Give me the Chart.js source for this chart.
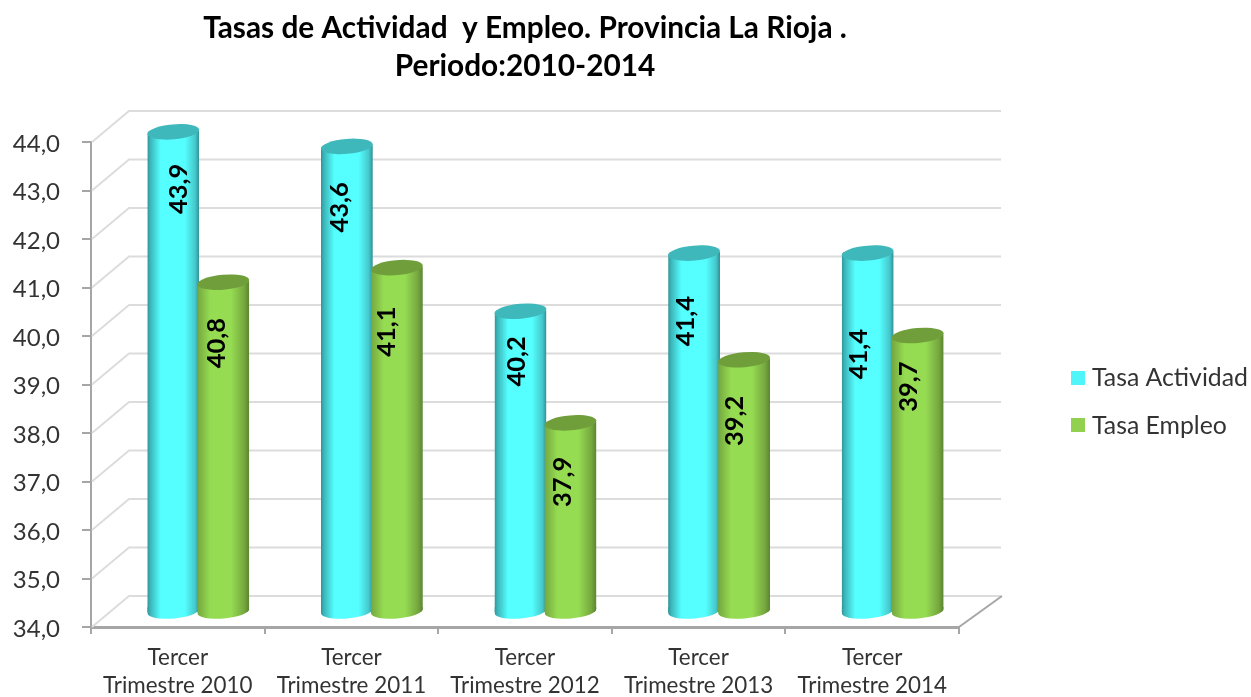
<!DOCTYPE html>
<html><head><meta charset="utf-8">
<style>html,body{margin:0;padding:0;background:#fff}canvas{display:block}</style>
<script src="https://cdn.jsdelivr.net/npm/chart.js@4"></script>
</head><body>
<div style="width:1251px;height:697px"><canvas id="c" width="1251" height="697"></canvas></div>
<script>
const titleLines = ['Tasas de Actividad  y Empleo. Provincia La Rioja .', 'Periodo:2010-2014'];
const categories = [['Tercer','Trimestre 2010'],['Tercer','Trimestre 2011'],['Tercer','Trimestre 2012'],['Tercer','Trimestre 2013'],['Tercer','Trimestre 2014']];
const tasaActividad = [43.9, 43.6, 40.2, 41.4, 41.4];
const tasaEmpleo = [40.8, 41.1, 37.9, 39.2, 39.7];
const yMin = 34, yMax = 44;

// hand-placed data label nudges, as in the source chart (relative to cap centre)
const labelNudgeActividad = [[5,57],[-7,61],[-4,50],[-8,68],[-9,101]];
const labelNudgeEmpleo = [[-7,61],[-10,64],[-8,59],[-9,61],[-9,51]];

const FONT = 'Lato, Carlito, Calibri, sans-serif';
const DEPTH_X = 41, DEPTH_Y = 31;
const MID_X = 20.5, MID_Y = 15;
const SLOT = [-25, 25];
const HALF = 26, CAP_RY = 7.5, TILT = -5 * Math.PI / 180;

const looks = [
  {stops:[[0,'#2f9498'],[0.06,'#3cb6ba'],[0.26,'#55ffff'],[0.72,'#55ffff'],[0.92,'#45c8cc'],[1,'#2f8f93']], cap:'#3fb8bb', swatch:'#4ff5f9'},
  {stops:[[0,'#74a63f'],[0.25,'#96dc52'],[0.65,'#96dc52'],[0.9,'#76a83f'],[1,'#5b8430']], cap:'#6f9e3a', swatch:'#92d14f'}
];

function cylinderGradient(ctx, x, look){
  const g = ctx.createLinearGradient(x-HALF,0,x+HALF,0);
  look.stops.forEach(s=>g.addColorStop(s[0],s[1]));
  return g;
}

const cylinderPlugin = {
  id:'cylinder',
  beforeDatasetsDraw(chart){
    const {ctx, chartArea:a, scales:{y}} = chart;
    ctx.save();
    ctx.lineWidth = 2;
    ctx.strokeStyle = '#dcdcdc';
    ctx.lineJoin = 'round';
    y.ticks.forEach(t=>{
      const py = y.getPixelForValue(t.value);
      ctx.beginPath();
      ctx.moveTo(a.left+1, py);
      ctx.lineTo(a.left+DEPTH_X-3, py-DEPTH_Y);
      ctx.lineTo(a.right+DEPTH_X+1, py-DEPTH_Y);
      ctx.stroke();
    });
    ctx.strokeStyle = '#a6a6a6';
    ctx.beginPath();
    ctx.moveTo(a.right, a.bottom);
    ctx.lineTo(a.right+DEPTH_X+2, a.bottom-DEPTH_Y);
    ctx.stroke();
    ctx.restore();
  },
  beforeDatasetDraw(chart, args){
    const {ctx} = chart, meta = args.meta, look = looks[args.index];
    ctx.save();
    ctx.translate(MID_X + SLOT[args.index], -MID_Y);
    ctx.beginPath();
    meta.data.forEach(el=>{
      el.options = Object.assign({}, el.options, {backgroundColor: cylinderGradient(ctx, el.x, look)});
      // side silhouette: bounded by tilted ellipse arcs at base and top
      ctx.moveTo(el.x-HALF, el.base+2);
      ctx.ellipse(el.x, el.base, HALF, CAP_RY, TILT, Math.PI, 0, true);
      ctx.ellipse(el.x, el.y, HALF, CAP_RY, TILT, 0, Math.PI, true);
      ctx.closePath();
    });
    ctx.clip();
    // lower rounded part below the bar rectangle
    meta.data.forEach(el=>{
      ctx.fillStyle = el.options.backgroundColor;
      ctx.fillRect(el.x-HALF, el.base-4, HALF*2, CAP_RY+10);
    });
  },
  afterDatasetDraw(chart, args){
    const {ctx} = chart, meta = args.meta, look = looks[args.index];
    ctx.restore();
    ctx.save();
    ctx.translate(MID_X + SLOT[args.index], -MID_Y);
    ctx.fillStyle = look.cap;
    meta.data.forEach(el=>{
      ctx.beginPath();
      ctx.ellipse(el.x, el.y, HALF, CAP_RY, TILT, 0, Math.PI*2);
      ctx.fill();
    });
    ctx.restore();
  },
  afterDatasetsDraw(chart){
    const {ctx} = chart;
    // data labels
    const nudges = [labelNudgeActividad, labelNudgeEmpleo];
    chart.data.datasets.forEach((ds,di)=>{
      chart.getDatasetMeta(di).data.forEach((el,i)=>{
        ctx.save();
        ctx.translate(el.x+MID_X+SLOT[di]+nudges[di][i][0], el.y-MID_Y+nudges[di][i][1]);
        ctx.rotate(-Math.PI/2);
        ctx.font = 'bold 25.5px '+FONT;
        ctx.fillStyle = '#000';
        ctx.textAlign = 'center';
        ctx.textBaseline = 'middle';
        ctx.fillText(ds.data[i].toFixed(1).replace('.',','),0,0);
        ctx.restore();
      });
    });
    // legend
    const ly = [377.5,425], lx = 1071;
    chart.data.datasets.forEach((ds,di)=>{
      ctx.save();
      ctx.fillStyle = looks[di].swatch;
      ctx.fillRect(lx, Math.round(ly[di])-7, 14, 14);
      ctx.font = '24.8px '+FONT;
      ctx.fillStyle = '#333';
      ctx.textAlign = 'left';
      ctx.textBaseline = 'middle';
      ctx.fillText(ds.label, lx+21, ly[di]+1);
      ctx.restore();
    });
  }
};

new Chart(document.getElementById('c'),{
  type:'bar',
  data:{labels:categories,datasets:[
    {label:'Tasa Actividad',data:tasaActividad,backgroundColor:looks[0].swatch,order:1,clip:false},
    {label:'Tasa Empleo',data:tasaEmpleo,backgroundColor:looks[1].swatch,order:0,clip:false}
  ]},
  options:{
    responsive:false,animation:false,
    layout:{padding:{left:0,right:292,top:0,bottom:0}},
    datasets:{bar:{grouped:false,base:yMin,barPercentage:1,categoryPercentage:0.288,inflateAmount:1,borderWidth:0}},
    plugins:{
      legend:{display:false},
      tooltip:{enabled:false},
      title:{display:true,text:titleLines,fullSize:false,align:'center',color:'#000',
        font:{family:FONT,size:29.8,weight:'bold',lineHeight:38/29.8},padding:{top:9,bottom:57}}
    },
    scales:{
      x:{
        afterFit(s){s.height=70;s.paddingLeft=0;s.paddingRight=0;},
        border:{color:'#a6a6a6',width:3},
        grid:{drawOnChartArea:false,drawTicks:true,tickLength:7,color:'#a6a6a6',lineWidth:2,offset:true},
        ticks:{color:'#333',autoSkip:false,maxRotation:0,padding:10,font:{family:FONT,size:22.4,lineHeight:28/22.4}}
      },
      y:{
        min:yMin,max:yMax,
        afterFit(s){s.width=91;s.paddingTop=0;s.paddingBottom=0;},
        border:{color:'#a6a6a6',width:2},
        grid:{drawOnChartArea:false,drawTicks:true,tickLength:9,color:'#a6a6a6',lineWidth:2},
        ticks:{color:'#333',stepSize:1,padding:22,font:{family:FONT,size:24,lineHeight:4/24},callback:v=>['',v.toFixed(1).replace('.',',')]}
      }
    }
  },
  plugins:[cylinderPlugin]
});
</script>
</body></html>
